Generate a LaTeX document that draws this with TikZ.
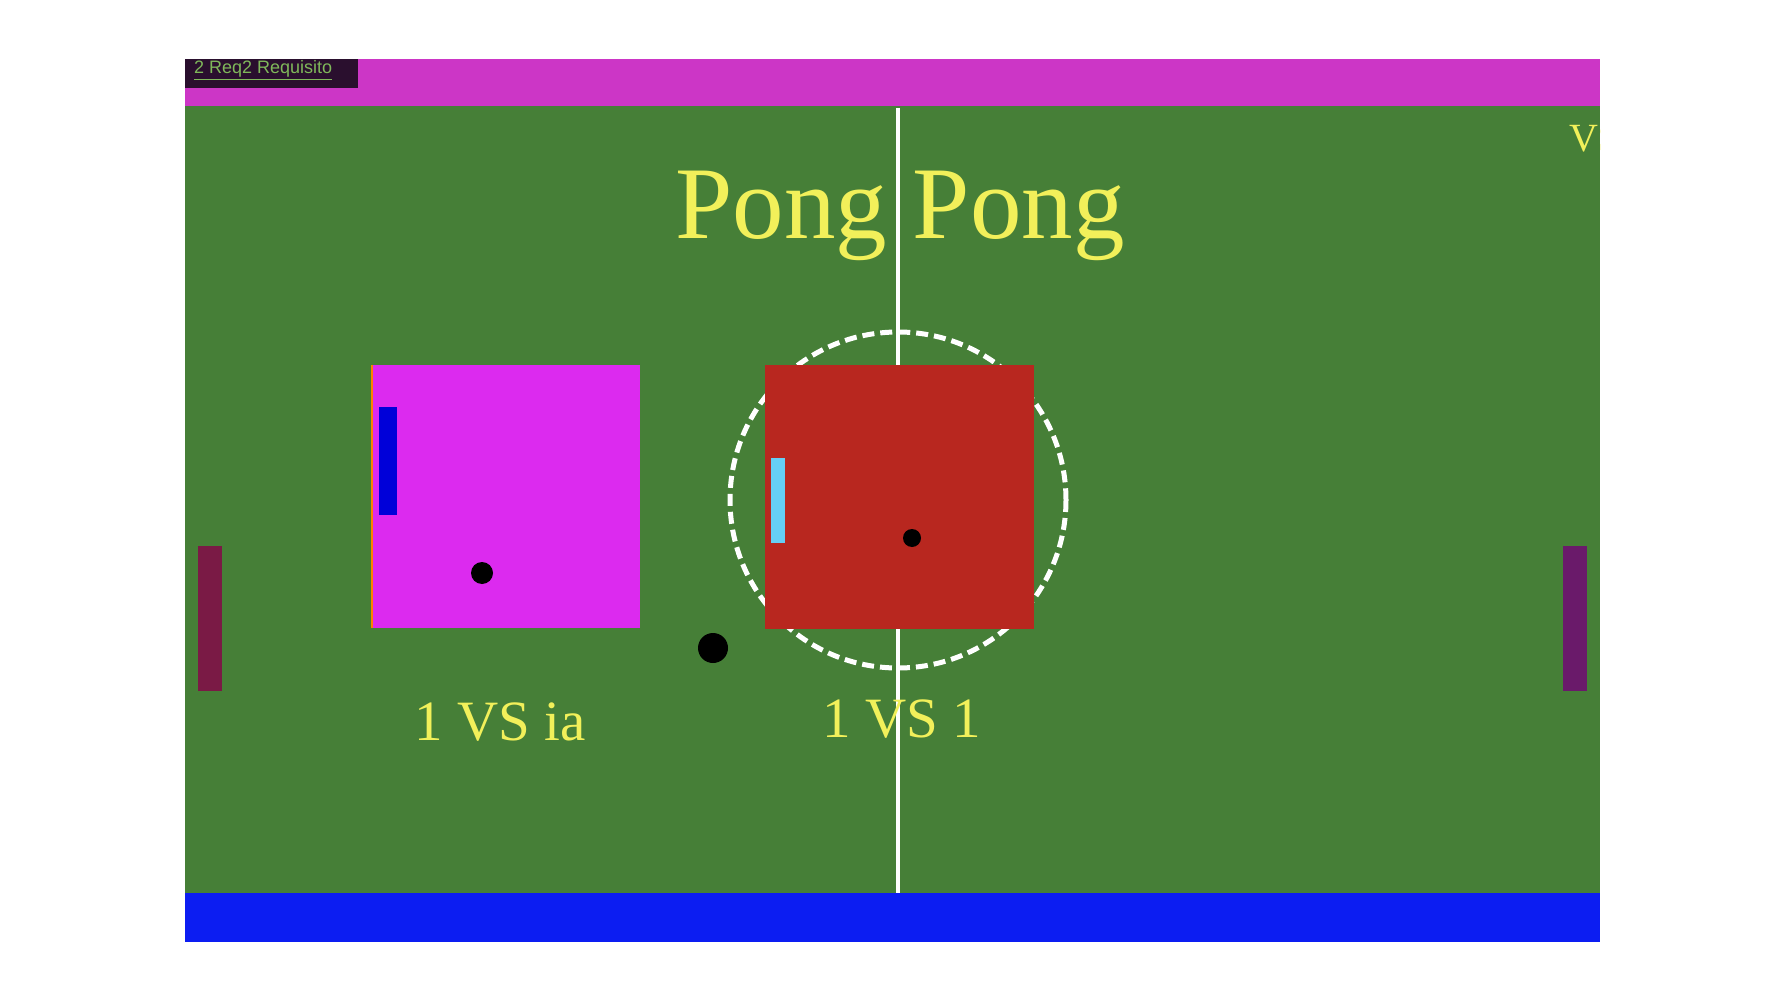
\documentclass[tikz,border=0pt]{standalone}
\usepackage{fontspec}
\setmainfont{Liberation Serif}
\newfontfamily\labfont{Liberation Sans}
\definecolor{fieldg}{HTML}{467F37}
\definecolor{topm}{HTML}{CC36C6}
\definecolor{botb}{HTML}{0C1DF2}
\definecolor{boxm}{HTML}{DC2AEF}
\definecolor{boxr}{HTML}{B8271F}
\definecolor{ylw}{HTML}{F2F05A}
\definecolor{lpad}{HTML}{7A1A45}
\definecolor{rpad}{HTML}{6A1A6A}
\definecolor{labbg}{HTML}{2A0F2E}
\definecolor{labtx}{HTML}{7FB85A}
\tikzset{ttl/.style={text=ylw,inner sep=0pt}, ball/.style={fill=black}}
\begin{document}
\begin{tikzpicture}[x=1pt,y=-1pt]
\useasboundingbox (0,0) rectangle (1778,1000);
\fill[white] (0,0) rectangle (1778,1000);
\fill[topm] (185,59) rectangle (1600,106);
\fill[fieldg] (185,106) rectangle (1600,893);
\fill[botb] (185,893) rectangle (1600,942);
\fill[labbg] (185,59) rectangle (358,88);
\node[anchor=west,text=labtx,inner sep=0pt,font=\labfont\fontsize{18}{20}\selectfont] (lab) at (194,70) {\underline{2 Req2 Requisito}};
\draw[white,line width=4] (898,108) -- (898,893);
\draw[white,line width=5,dash pattern=on 12pt off 6pt] (898,500) circle (168);
\begin{scope}
\clip (185,106) rectangle (1600,893);
\node[ttl,anchor=west,font=\fontsize{40}{44}\selectfont] (v) at (1569,139) {VS};
\end{scope}
\node[ttl,font=\fontsize{103}{110}\selectfont] (title) at (900,216) {Pong Pong};
\fill[boxm] (372,365) rectangle (640,628);
\draw[orange,line width=2] (372,365) -- (372,628);
\fill[blue!85!black] (379,407) rectangle (397,515);
\fill[ball] (482,573) circle (11);
\fill[boxr] (765,365) rectangle (1034,629);
\fill[cyan!60!white] (771,458) rectangle (785,543);
\fill[ball] (912,538) circle (9);
\fill[ball] (713,648) circle (15);
\fill[lpad] (198,546) rectangle (222,691);
\fill[rpad] (1563,546) rectangle (1587,691);
\node[ttl,font=\fontsize{57}{60}\selectfont] (ia) at (500,722) {1 VS ia};
\node[ttl,font=\fontsize{57}{60}\selectfont] (vs1) at (902,719) {1 VS 1};
\end{tikzpicture}
\end{document}
